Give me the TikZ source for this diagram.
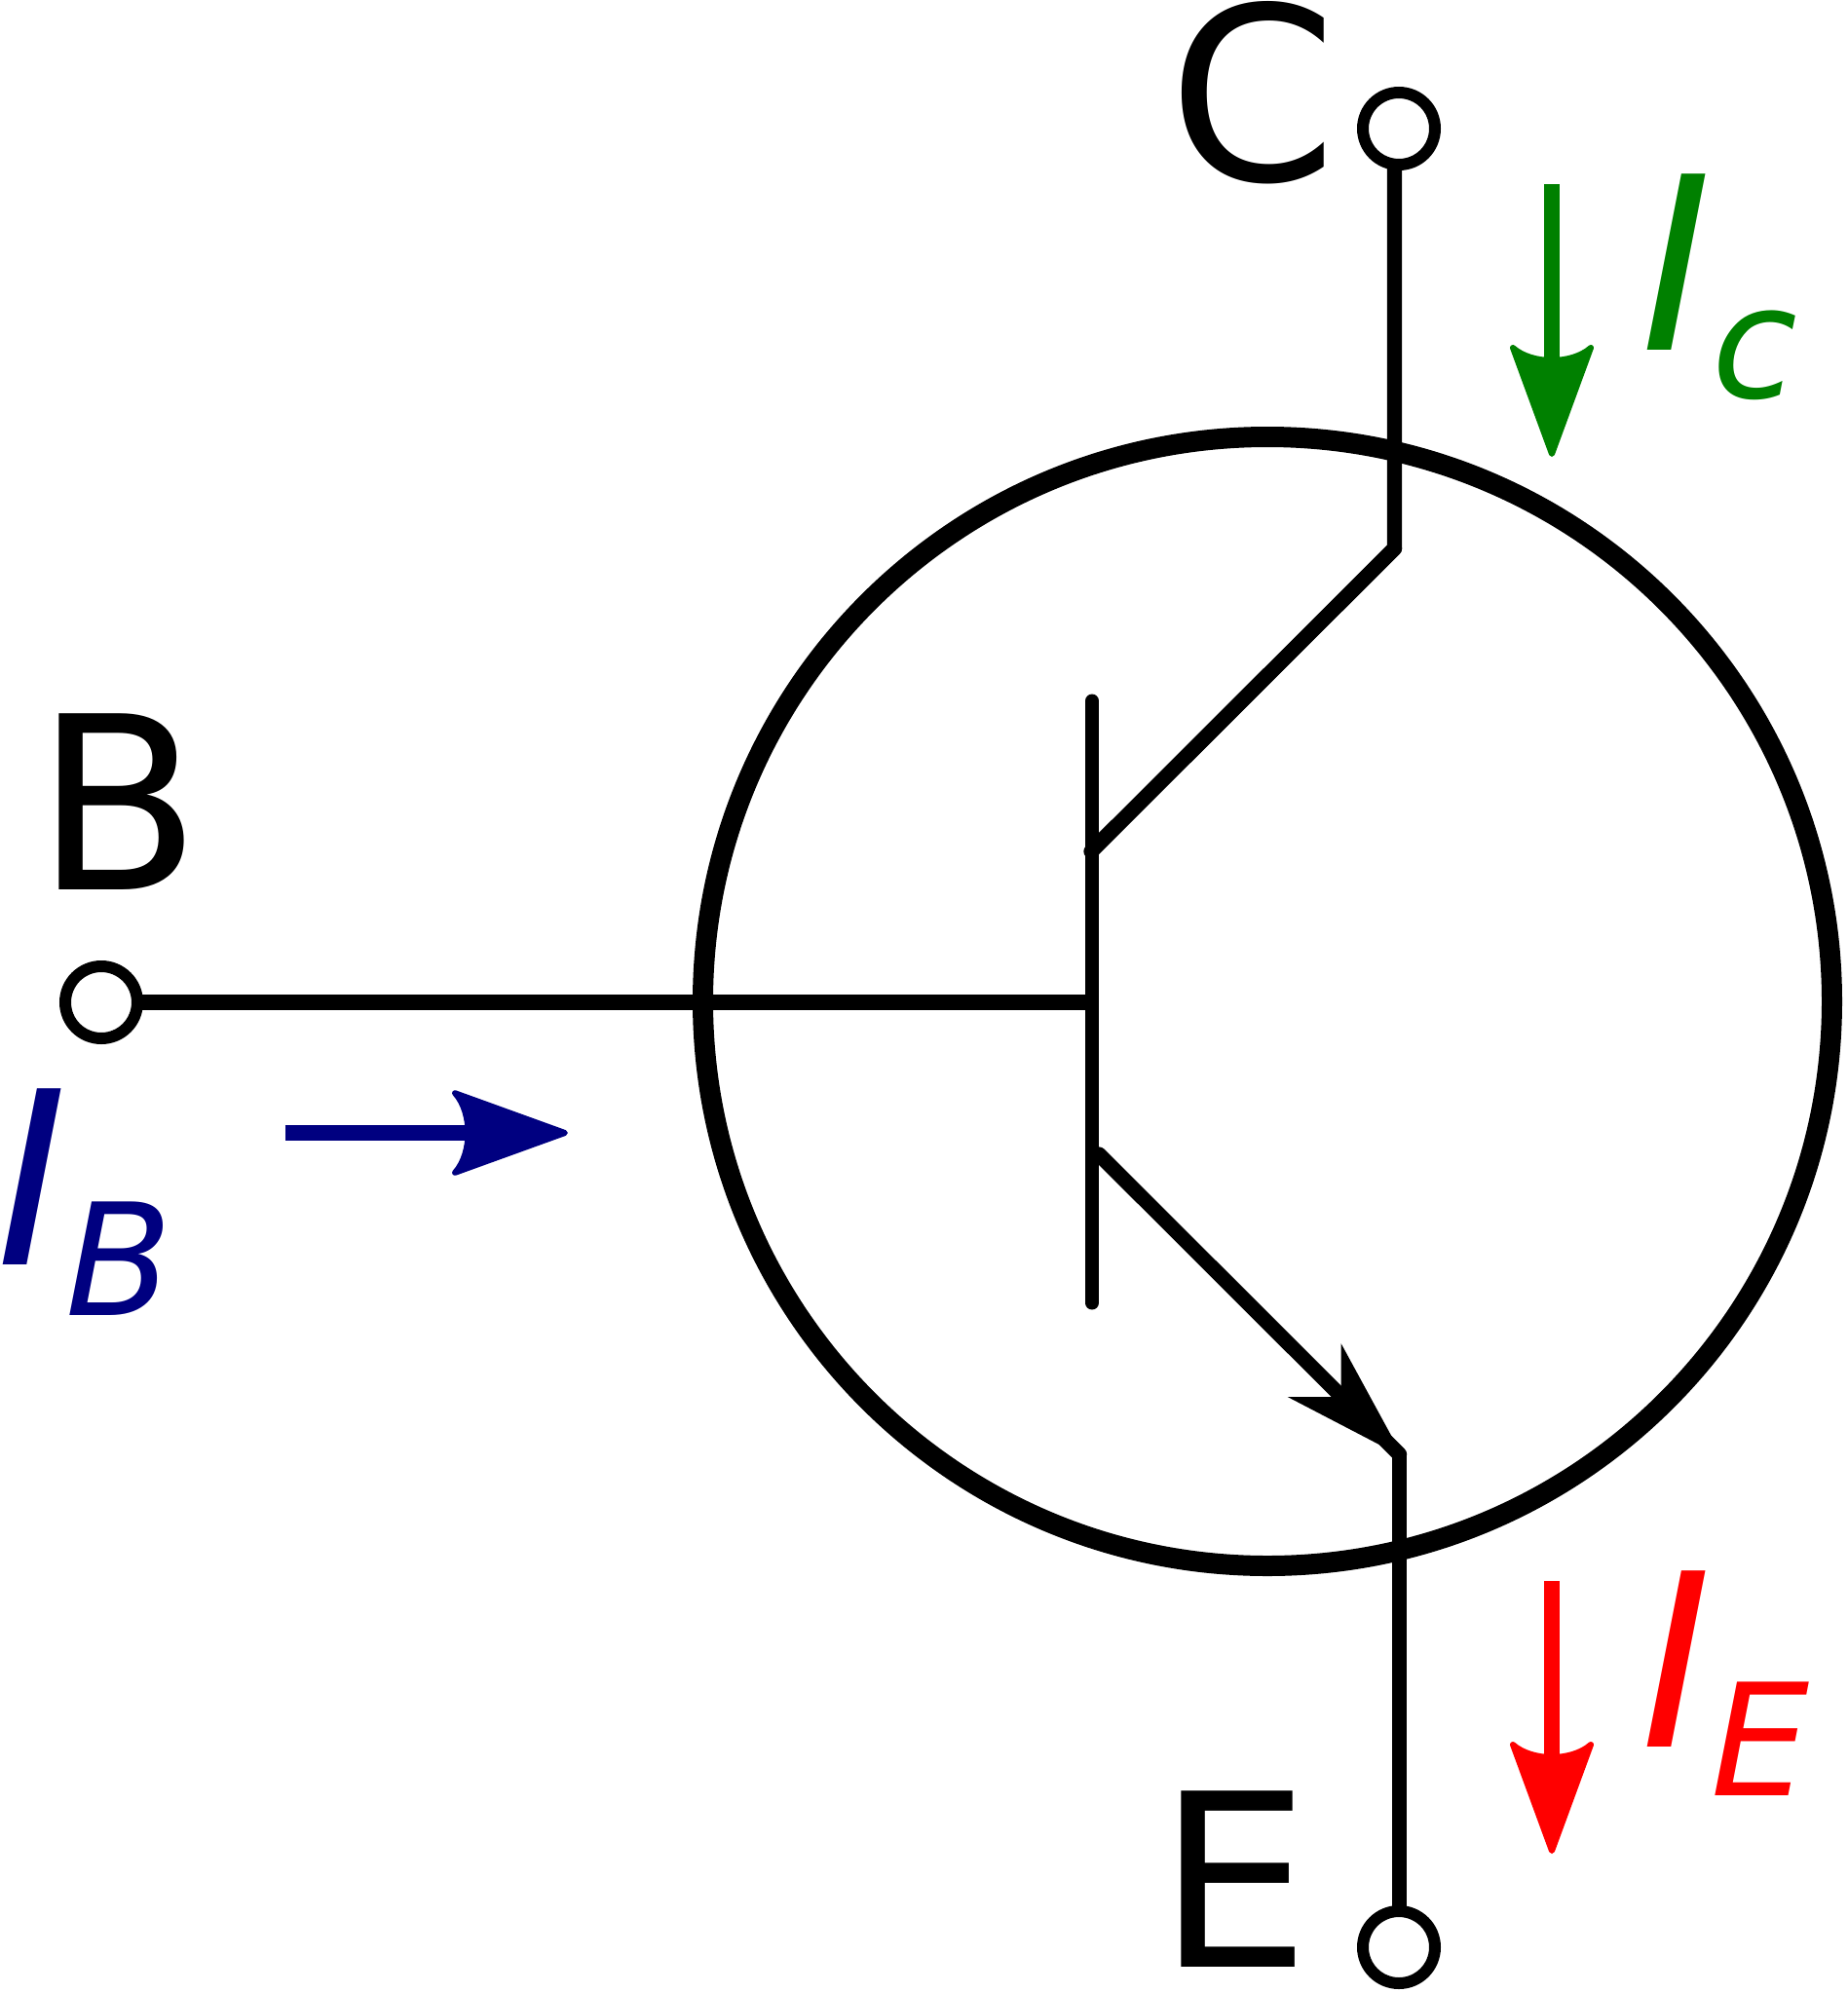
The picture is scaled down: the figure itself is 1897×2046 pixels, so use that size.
\documentclass[tikz,border=0pt]{standalone}
\usepackage{fontspec}
\setmainfont{DejaVu Sans}
\definecolor{icgreen}{HTML}{008000}
\definecolor{ibblue}{HTML}{000080}
\definecolor{iered}{HTML}{FF0000}
\newcommand{\bigfont}{\fontsize{248}{248}\selectfont}
\newcommand{\subfont}{\fontsize{160}{160}\selectfont}
\newcommand{\currentlabel}[3]{\bigfont\itshape I\kern#1pt\raisebox{-#2pt}{\subfont #3}}
\tikzset{
  x=1pt,y=-1pt,
  terminal/.style={circle,draw=black,line width=12pt,minimum size=74pt,inner sep=0pt,outer sep=0pt},
  wire/.style={draw=black,line width=15.3pt,line cap=round,line join=round},
  ring/.style={draw=black,line width=21pt},
  shaft/.style={line width=16.5pt,line cap=butt},
  letter/.style={anchor=base west,inner sep=0pt,outer sep=0pt,text=black},
  curlabel/.style={anchor=base west,inner sep=0pt,outer sep=0pt},
  curhead/.pic={
    \filldraw[line width=6pt,line join=round,pic actions]
      (-3,0) -- (-112,-40) .. controls (-103,-30) and (-99,-14) .. (-99,0)
      .. controls (-99,14) and (-103,30) .. (-112,40) -- cycle;
  }
}
\begin{document}
\begin{tikzpicture}
\useasboundingbox (0,0) rectangle (1897,2046);
% outer circle
\coordinate (ringC) at (1301,1028);
\draw[ring] (ringC) circle[radius=579.5pt];
% terminals
\node[terminal] (tC) at (1436,132) {};
\node[terminal] (tB) at (104,1029) {};
\node[terminal] (tE) at (1436,1999) {};
% junction points
\coordinate (cJ) at (1431.5,563);
\coordinate (bTop) at (1121,719.5);
\coordinate (bBot) at (1121,1337.5);
\coordinate (bMid) at (1121,1029);
\coordinate (cBase) at (1120,874);
\coordinate (eBase) at (1128,1185);
\coordinate (eJ) at (1436.5,1493);
% wires
\draw[wire,line cap=butt] (tC.south -| cJ) -- (cJ) -- (cBase);
\draw[wire,line cap=round] (cJ) -- (cBase);
\draw[wire,line width=14pt] (bTop) -- (bBot);
\draw[wire,line cap=butt] (tB.east) -- (bMid);
\draw[wire] (eBase) -- (eJ);
\draw[wire,line cap=butt] (eJ) -- (eJ |- tE.north);
% emitter arrowhead
\coordinate (ah1) at (1376.7,1379.3);
\coordinate (ah2) at (1440,1495.6);
\coordinate (ah3) at (1321.7,1434);
\coordinate (ah4) at (1376.7,1434);
\fill[black] (ah1) -- (ah2) -- (ah3) -- (ah4) -- cycle;
% current arrows
\coordinate (gStart) at (1593,189);
\coordinate (gTip) at (1593,469);
\coordinate (gEnd) at (1593,374);
\draw[icgreen,shaft] (gStart) -- (gEnd);
\pic[fill=icgreen,draw=icgreen,rotate=-90] at (gTip) {curhead};
\coordinate (rStart) at (1593,1623);
\coordinate (rTip) at (1593,1903);
\coordinate (rEnd) at (1593,1808);
\draw[iered,shaft] (rStart) -- (rEnd);
\pic[fill=iered,draw=iered,rotate=-90] at (rTip) {curhead};
\coordinate (bStart) at (292.5,1163);
\coordinate (bTip) at (583,1163);
\coordinate (bEnd) at (485,1163);
\draw[ibblue,shaft] (bStart) -- (bEnd);
\pic[fill=ibblue,draw=ibblue,xscale=1.035,yscale=1.02] at (bTip) {curhead};
% letters
\node[letter] (lC) at (1199,185) {\bigfont C};
\node[letter] (lB) at (36,913.2) {\bigfont B};
\node[letter] (lE) at (1188,2019) {\bigfont E};
% current labels
\node[curlabel,text=icgreen] (lIC) at (1684,359.3) {\currentlabel{0.6}{49}{c}};
\node[curlabel,text=ibblue] (lIB) at (-4,1298.7) {\currentlabel{-2}{51.5}{B}};
\node[curlabel,text=iered] (lIE) at (1684,1793) {\currentlabel{-0.5}{50}{E}};
\end{tikzpicture}
\end{document}
